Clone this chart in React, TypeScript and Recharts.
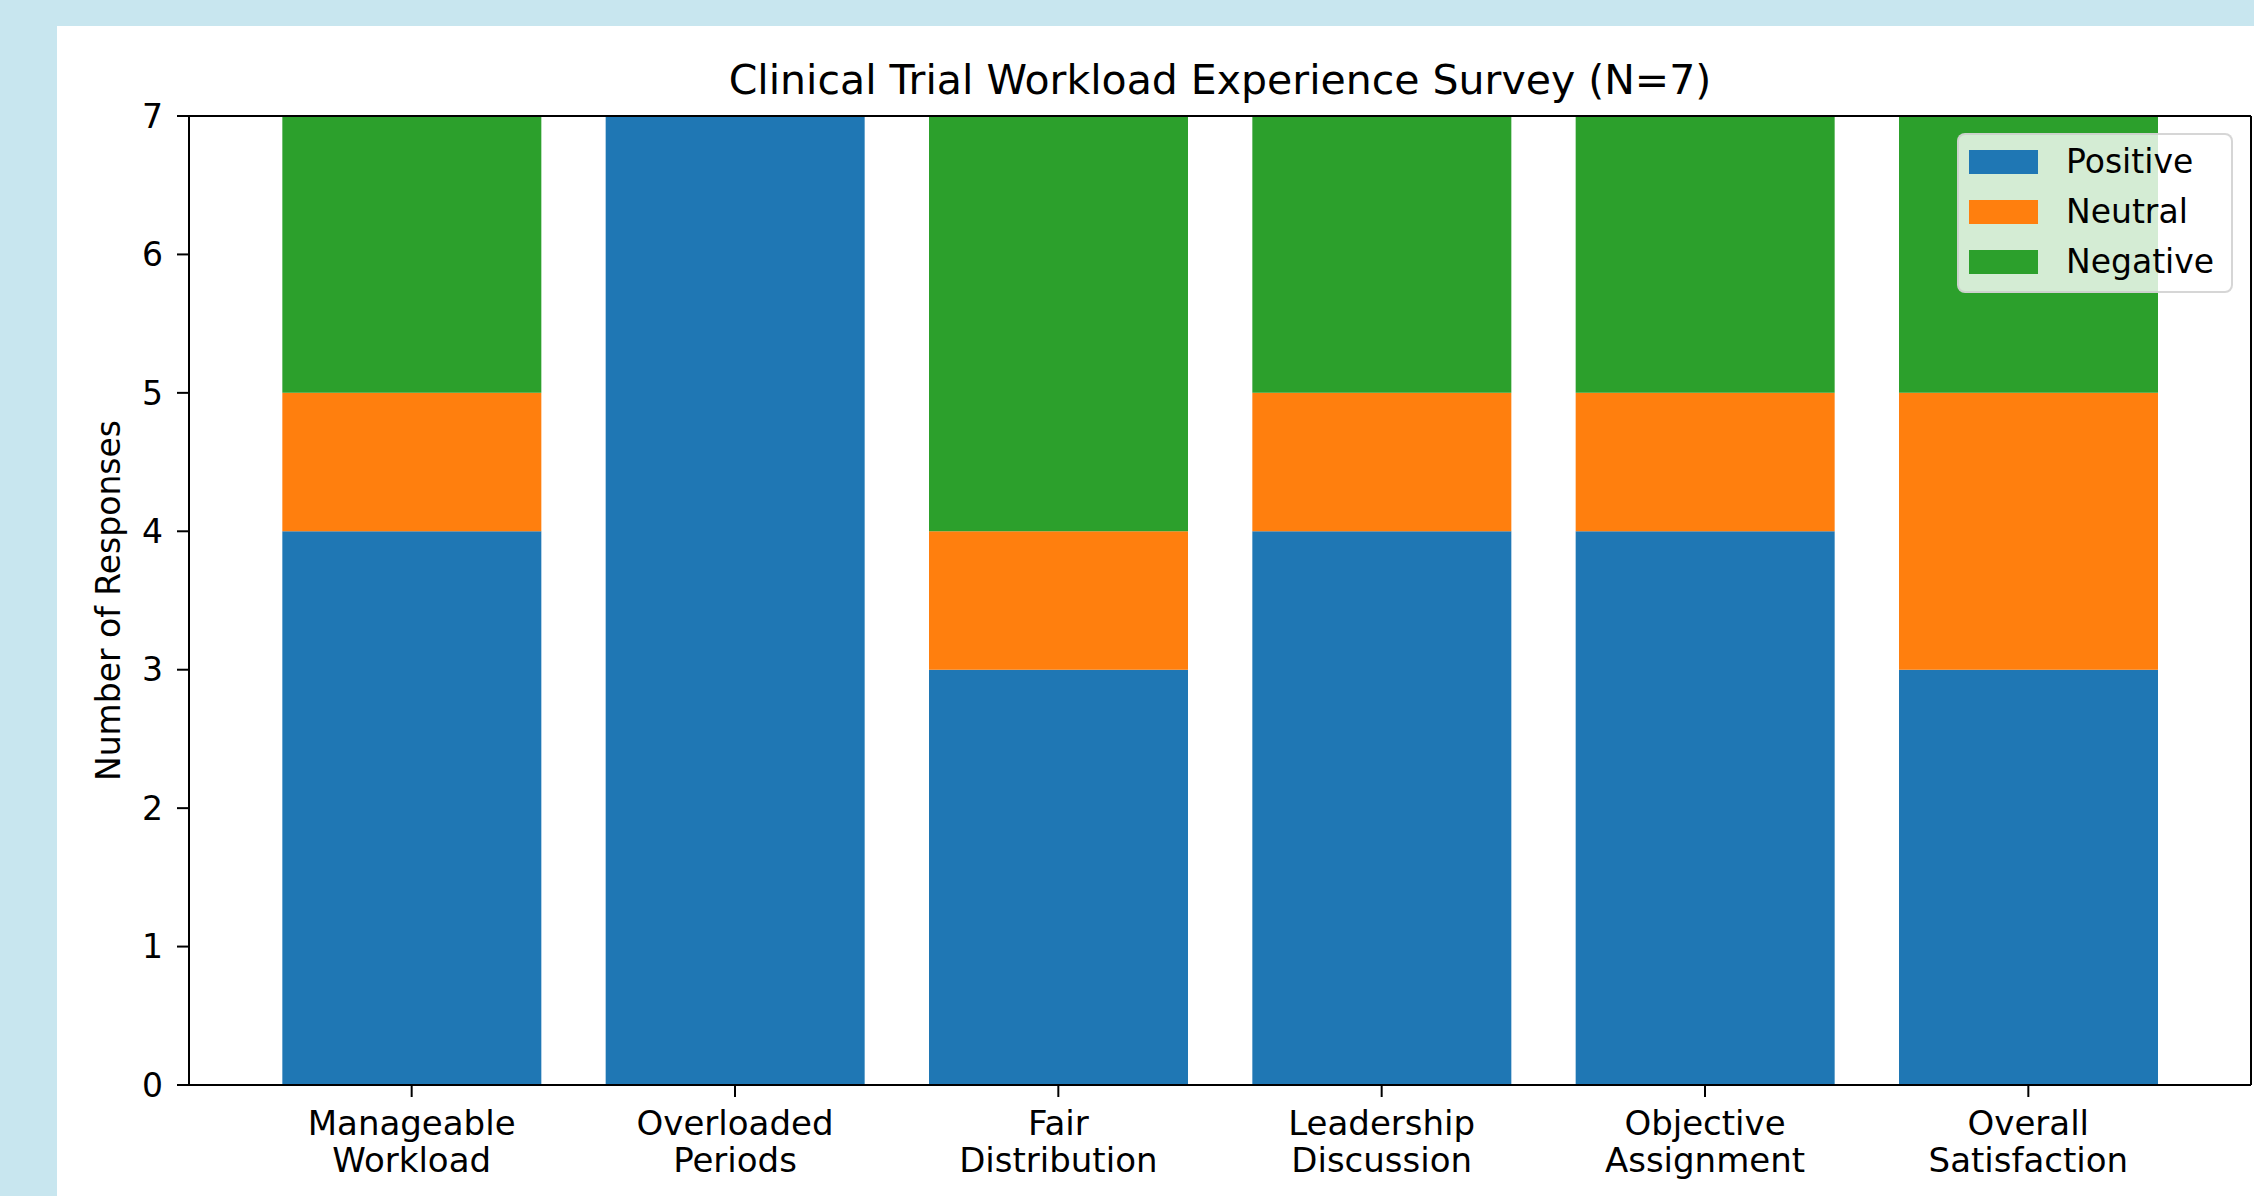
import React from "react";
import { BarChart, Bar, XAxis, YAxis, Legend } from "recharts";

const BLUE = "#1f77b4";
const ORANGE = "#ff7f0e";
const GREEN = "#2ca02c";
const FONT = "DejaVu Sans, sans-serif";

const categories = [
  "Manageable Workload",
  "Overloaded Periods",
  "Fair Distribution",
  "Leadership Discussion",
  "Objective Assignment",
  "Overall Satisfaction",
];
const positive = [4, 7, 3, 4, 4, 3];
const neutral = [1, 0, 1, 1, 1, 2];
const negative = [2, 0, 3, 2, 2, 2];
const yTicks = [0, 1, 2, 3, 4, 5, 6, 7];

const seriesNames = ["Positive", "Neutral", "Negative"];
const seriesColors = [BLUE, ORANGE, GREEN];

const data = categories.map((c, i) => ({
  name: c,
  Positive: positive[i],
  Neutral: neutral[i],
  Negative: negative[i],
}));

function CategoryTick({ x, y, payload }: any) {
  const [a, b] = String(payload.value).split(" ");
  return (
    <text x={x} y={y} textAnchor="middle" fontSize={34} fill="#000" fontFamily={FONT}>
      <tspan x={x} dy={38}>{a}</tspan>
      <tspan x={x} dy={37}>{b}</tspan>
    </text>
  );
}

function YLabel({ viewBox }: any) {
  const cx = viewBox.x + 51;
  const cy = viewBox.y + viewBox.height / 2;
  return (
    <text
      x={cx}
      y={cy}
      transform={`rotate(-90, ${cx}, ${cy})`}
      textAnchor="middle"
      dominantBaseline="central"
      fontSize={33}
      fill="#000"
      fontFamily={FONT}
    >
      Number of Responses
    </text>
  );
}

function LegendBox() {
  return (
    <div
      style={{
        width: 276,
        height: 160,
        boxSizing: "border-box",
        background: "rgba(255,255,255,0.8)",
        border: "2px solid rgba(204,204,204,0.8)",
        borderRadius: 8,
        position: "relative",
        fontFamily: FONT,
        fontSize: 33,
        color: "#000",
      }}
    >
      {seriesNames.map((n, i) => (
        <div key={n} style={{ position: "absolute", left: 0, top: 6 + i * 50, height: 42, display: "flex", alignItems: "center" }}>
          <span style={{ display: "inline-block", marginLeft: 10, width: 69, height: 24, background: seriesColors[i] }} />
          <span style={{ marginLeft: 28, lineHeight: "42px" }}>{n}</span>
        </div>
      ))}
    </div>
  );
}

export default function App() {
  return (
    <div style={{ position: "absolute", left: 0, top: 0, width: 2254, height: 1196, background: "#c8e6ef", overflow: "hidden" }}>
      <div style={{ position: "absolute", left: 57, top: 26, width: 2197, height: 1170, background: "#fff" }}>
        <div
          style={{
            position: "absolute",
            left: 132,
            width: 2062,
            top: 33,
            lineHeight: "42px",
            textAlign: "center",
            fontFamily: FONT,
            fontSize: 41,
            color: "#000",
          }}
        >
          Clinical Trial Workload Experience Survey (N=7)
        </div>
        <BarChart
          width={2197}
          height={1170}
          data={data}
          margin={{ top: 89, right: 2, left: 0, bottom: 0 }}
          barCategoryGap="10%"
        >
          <XAxis
            dataKey="name"
            height={111}
            padding={{ left: 61, right: 61 }}
            interval={0}
            tick={<CategoryTick />}
            tickSize={12}
            tickMargin={0}
            tickLine={{ stroke: "#000", strokeWidth: 2 }}
            axisLine={{ stroke: "#000", strokeWidth: 2 }}
          />
          <XAxis
            xAxisId="top"
            dataKey="name"
            orientation="top"
            height={1}
            tick={false}
            tickLine={false}
            axisLine={{ stroke: "#000", strokeWidth: 2 }}
          />
          <YAxis
            width={132}
            domain={[0, 7]}
            ticks={yTicks}
            interval={0}
            tickSize={12}
            tickMargin={14}
            tick={{ fontSize: 33, fill: "#000", fontFamily: FONT }}
            tickLine={{ stroke: "#000", strokeWidth: 2 }}
            axisLine={{ stroke: "#000", strokeWidth: 2 }}
            label={{ content: <YLabel /> } as any}
          />
          <YAxis
            yAxisId="right"
            orientation="right"
            type="number"
            domain={[0, 7]}
            width={1}
            tick={false}
            tickLine={false}
            axisLine={{ stroke: "#000", strokeWidth: 2 }}
          />
          <Legend
            layout="vertical"
            align="center"
            verticalAlign="middle"
            content={<LegendBox />}
            wrapperStyle={{ left: 1900, top: 107, width: 276, height: 160 }}
          />
          {seriesNames.map((n, i) => (
            <Bar key={n} dataKey={n} stackId="a" fill={seriesColors[i]} isAnimationActive={false} />
          ))}
          <Bar dataKey="Positive" xAxisId="top" yAxisId="right" fill="none" legendType="none" isAnimationActive={false} hide />
        </BarChart>
      </div>
    </div>
  );
}
